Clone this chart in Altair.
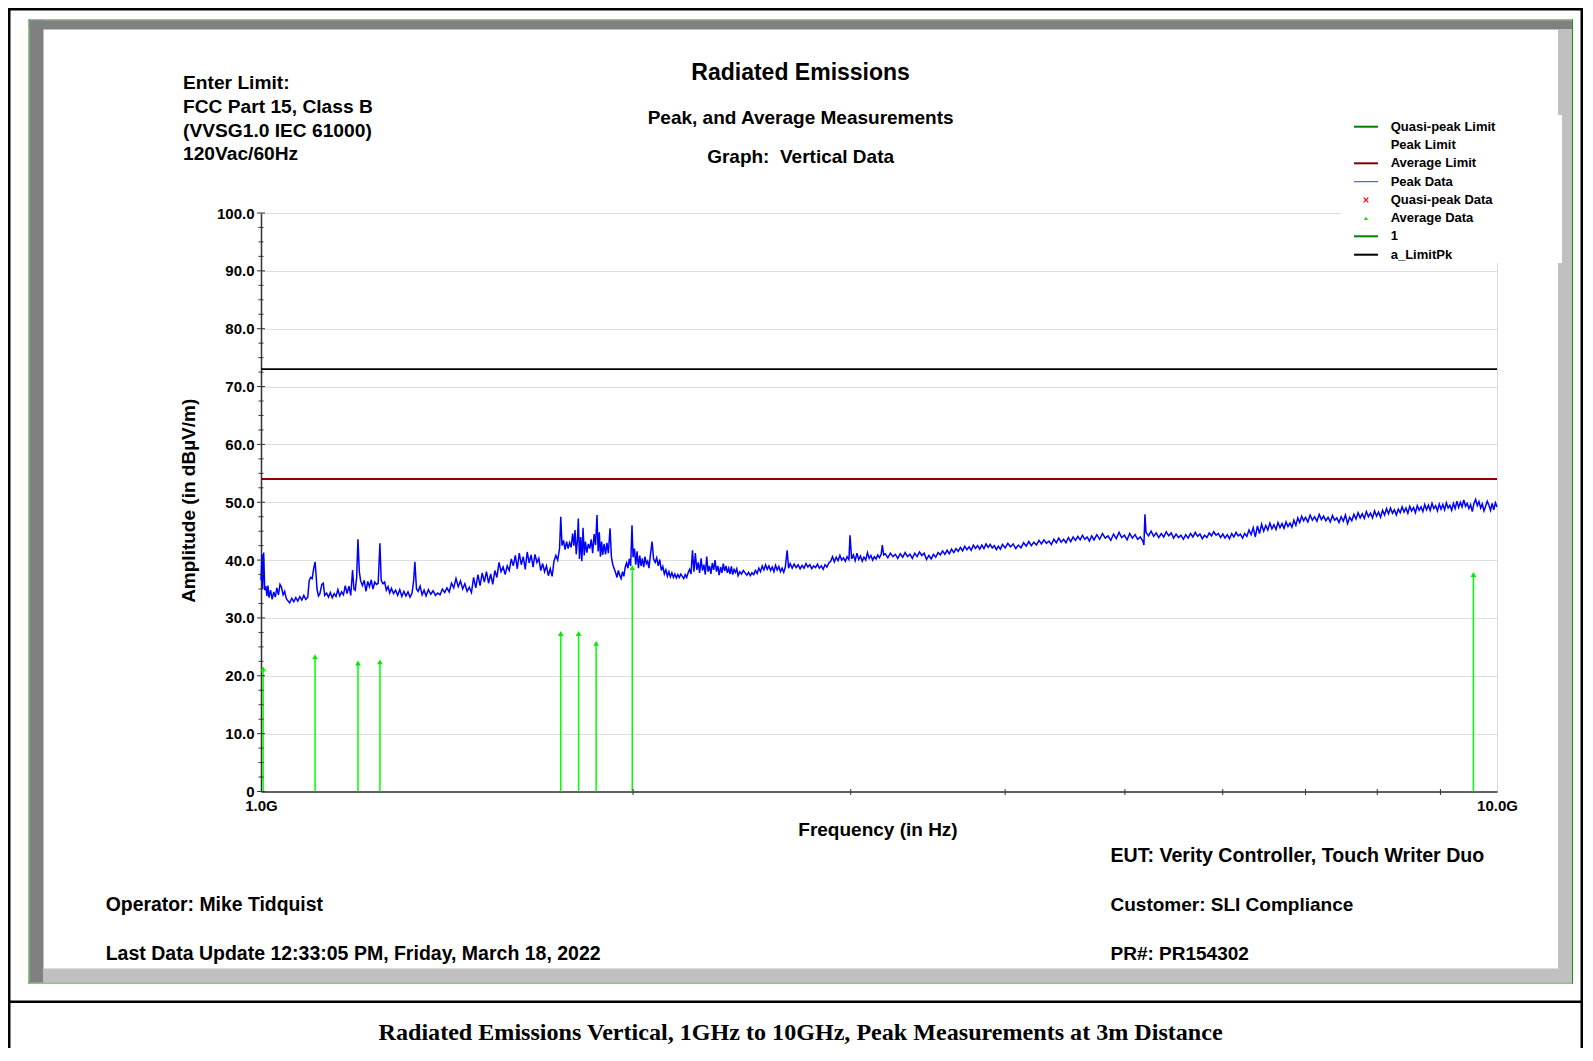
import altair as alt
import pandas as pd

# ---------------- data ----------------
PEAK_FREQ_GHZ = [
    1.000, 1.002, 1.003, 1.005, 1.007, 1.009, 1.011, 1.013, 1.015, 1.018,
    1.021, 1.024, 1.027, 1.030, 1.033, 1.036, 1.039, 1.042, 1.045, 1.048,
    1.051, 1.055, 1.059, 1.063, 1.067, 1.071, 1.075, 1.079, 1.083, 1.087,
    1.091, 1.094, 1.097, 1.100, 1.103, 1.106, 1.108, 1.110, 1.113, 1.116,
    1.120, 1.123, 1.126, 1.130, 1.134, 1.138, 1.142, 1.146, 1.150, 1.154,
    1.158, 1.162, 1.166, 1.170, 1.174, 1.178, 1.182, 1.186, 1.189, 1.192,
    1.195, 1.198, 1.201, 1.204, 1.208, 1.212, 1.216, 1.220, 1.224, 1.228,
    1.232, 1.236, 1.240, 1.244, 1.248, 1.251, 1.255, 1.259, 1.263, 1.267,
    1.271, 1.275, 1.280, 1.285, 1.290, 1.295, 1.300, 1.305, 1.310, 1.315,
    1.320, 1.325, 1.329, 1.332, 1.336, 1.340, 1.345, 1.350, 1.355, 1.360,
    1.366, 1.372, 1.378, 1.384, 1.390, 1.396, 1.402, 1.408, 1.414, 1.420,
    1.426, 1.432, 1.438, 1.444, 1.450, 1.456, 1.462, 1.468, 1.474, 1.480,
    1.486, 1.492, 1.498, 1.504, 1.510, 1.516, 1.522, 1.528, 1.534, 1.540,
    1.546, 1.552, 1.558, 1.564, 1.570, 1.576, 1.582, 1.588, 1.594, 1.600,
    1.606, 1.612, 1.618, 1.624, 1.630, 1.636, 1.642, 1.648, 1.654, 1.660,
    1.666, 1.672, 1.678, 1.684, 1.690, 1.696, 1.702, 1.708, 1.714, 1.720,
    1.726, 1.732, 1.738, 1.744, 1.748, 1.752, 1.757, 1.762, 1.767, 1.772,
    1.777, 1.782, 1.787, 1.791, 1.795, 1.799, 1.803, 1.806, 1.810, 1.814,
    1.818, 1.822, 1.826, 1.830, 1.835, 1.840, 1.845, 1.850, 1.855, 1.860,
    1.865, 1.870, 1.874, 1.878, 1.882, 1.886, 1.890, 1.895, 1.900, 1.905,
    1.910, 1.916, 1.921, 1.926, 1.931, 1.936, 1.941, 1.946, 1.951, 1.956,
    1.961, 1.966, 1.971, 1.976, 1.981, 1.986, 1.991, 1.996, 2.000, 2.005,
    2.010, 2.015, 2.020, 2.025, 2.030, 2.035, 2.040, 2.045, 2.050, 2.055,
    2.060, 2.066, 2.072, 2.078, 2.084, 2.090, 2.096, 2.102, 2.108, 2.114,
    2.120, 2.126, 2.132, 2.138, 2.144, 2.150, 2.156, 2.162, 2.168, 2.174,
    2.180, 2.186, 2.192, 2.198, 2.204, 2.210, 2.216, 2.222, 2.228, 2.234,
    2.240, 2.246, 2.252, 2.258, 2.264, 2.270, 2.276, 2.282, 2.288, 2.294,
    2.300, 2.306, 2.312, 2.318, 2.324, 2.330, 2.336, 2.342, 2.348, 2.354,
    2.360, 2.366, 2.372, 2.378, 2.384, 2.390, 2.396, 2.402, 2.408, 2.414,
    2.420, 2.426, 2.432, 2.440, 2.448, 2.456, 2.464, 2.472, 2.480, 2.488,
    2.496, 2.504, 2.512, 2.520, 2.528, 2.536, 2.544, 2.552, 2.560, 2.568,
    2.576, 2.584, 2.592, 2.600, 2.608, 2.616, 2.624, 2.632, 2.640, 2.648,
    2.656, 2.665, 2.672, 2.680, 2.690, 2.700, 2.710, 2.720, 2.730, 2.740,
    2.750, 2.760, 2.770, 2.780, 2.790, 2.800, 2.810, 2.820, 2.830, 2.840,
    2.850, 2.860, 2.870, 2.880, 2.890, 2.900, 2.910, 2.920, 2.930, 2.940,
    2.950, 2.960, 2.970, 2.980, 2.990, 2.996, 3.005, 3.015, 3.025, 3.035,
    3.045, 3.055, 3.065, 3.075, 3.085, 3.095, 3.105, 3.115, 3.125, 3.135,
    3.145, 3.155, 3.165, 3.175, 3.182, 3.190, 3.200, 3.215, 3.230, 3.245,
    3.260, 3.275, 3.290, 3.305, 3.320, 3.335, 3.350, 3.365, 3.380, 3.395,
    3.410, 3.425, 3.440, 3.455, 3.470, 3.485, 3.500, 3.515, 3.530, 3.545,
    3.560, 3.575, 3.590, 3.605, 3.620, 3.635, 3.650, 3.665, 3.680, 3.695,
    3.710, 3.725, 3.740, 3.755, 3.770, 3.785, 3.800, 3.815, 3.830, 3.845,
    3.860, 3.875, 3.890, 3.905, 3.920, 3.935, 3.950, 3.965, 3.980, 4.000,
    4.020, 4.040, 4.060, 4.080, 4.100, 4.120, 4.140, 4.160, 4.180, 4.200,
    4.220, 4.240, 4.260, 4.280, 4.300, 4.320, 4.340, 4.360, 4.380, 4.400,
    4.420, 4.440, 4.460, 4.480, 4.500, 4.520, 4.540, 4.560, 4.580, 4.600,
    4.620, 4.640, 4.660, 4.680, 4.700, 4.720, 4.745, 4.770, 4.795, 4.820,
    4.845, 4.870, 4.895, 4.920, 4.945, 4.970, 4.995, 5.020, 5.045, 5.070,
    5.095, 5.120, 5.145, 5.170, 5.180, 5.190, 5.200, 5.225, 5.250, 5.275,
    5.300, 5.325, 5.350, 5.375, 5.400, 5.425, 5.450, 5.475, 5.500, 5.525,
    5.550, 5.575, 5.600, 5.625, 5.650, 5.675, 5.700, 5.725, 5.750, 5.775,
    5.800, 5.825, 5.850, 5.875, 5.900, 5.925, 5.950, 5.975, 6.000, 6.025,
    6.050, 6.075, 6.100, 6.125, 6.150, 6.175, 6.200, 6.225, 6.250, 6.275,
    6.300, 6.325, 6.350, 6.375, 6.400, 6.425, 6.450, 6.475, 6.500, 6.525,
    6.550, 6.575, 6.600, 6.625, 6.650, 6.675, 6.700, 6.725, 6.750, 6.775,
    6.800, 6.825, 6.850, 6.875, 6.900, 6.925, 6.950, 6.975, 7.000, 7.030,
    7.060, 7.090, 7.120, 7.150, 7.180, 7.210, 7.240, 7.270, 7.300, 7.330,
    7.360, 7.390, 7.420, 7.450, 7.480, 7.510, 7.540, 7.570, 7.600, 7.630,
    7.660, 7.690, 7.720, 7.750, 7.780, 7.810, 7.840, 7.870, 7.900, 7.930,
    7.960, 7.990, 8.020, 8.050, 8.080, 8.110, 8.140, 8.170, 8.200, 8.230,
    8.260, 8.290, 8.320, 8.350, 8.380, 8.410, 8.440, 8.470, 8.500, 8.530,
    8.560, 8.590, 8.620, 8.650, 8.680, 8.710, 8.740, 8.770, 8.800, 8.830,
    8.860, 8.890, 8.920, 8.950, 8.980, 9.010, 9.040, 9.070, 9.100, 9.130,
    9.160, 9.190, 9.220, 9.250, 9.280, 9.310, 9.340, 9.370, 9.400, 9.430,
    9.460, 9.490, 9.520, 9.550, 9.580, 9.610, 9.640, 9.670, 9.700, 9.730,
    9.760, 9.790, 9.820, 9.850, 9.880, 9.910, 9.940, 9.970, 10.000,
]
PEAK_DBUV = [
    36.5, 41.0, 35.0, 41.3, 34.8, 35.5, 33.8, 35.6, 33.5, 34.8,
    33.2, 34.5, 33.6, 35.2, 34.0, 35.8, 35.3, 34.0, 34.6, 33.4,
    33.0, 32.6, 33.4, 32.8, 33.5, 32.9, 33.7, 33.1, 33.9, 33.2,
    33.6, 36.5, 37.0, 36.8, 38.5, 39.7, 37.5, 35.0, 33.8, 34.2,
    35.8, 36.0, 33.9, 34.3, 33.6, 34.4, 33.5, 34.2, 33.7, 34.9,
    33.8, 34.5, 34.0, 35.6, 34.2, 35.5, 33.9, 38.3, 35.0, 34.8,
    37.0, 43.6, 38.0, 36.4, 35.6, 36.5, 34.6, 36.3, 35.4, 36.6,
    35.0, 36.2, 35.8, 36.0, 42.9, 36.5, 35.9, 36.2, 34.8, 35.4,
    34.3, 35.1, 34.2, 34.8, 33.9, 34.9, 33.7, 34.6, 33.8, 34.5,
    33.6, 34.3, 36.5, 39.7, 35.0, 34.6, 35.5, 34.0, 34.8, 33.8,
    34.9, 34.1, 34.7, 33.9, 34.3, 34.0, 35.0, 34.4, 35.2, 34.5,
    36.0, 35.2, 36.8, 35.4, 36.4, 35.0, 35.9, 34.6, 35.3, 34.4,
    37.0, 35.2, 37.5, 35.6, 37.8, 36.2, 38.0, 36.0, 37.6, 35.8,
    38.2, 37.0, 39.6, 38.0, 38.8, 37.5, 39.0, 38.2, 40.2, 39.0,
    40.8, 38.5, 41.2, 39.2, 40.6, 38.4, 41.4, 39.5, 40.9, 38.8,
    41.0, 39.6, 40.3, 38.2, 39.4, 38.0, 39.0, 37.3, 38.5, 37.2,
    39.8, 40.8, 40.0, 42.0, 47.5, 42.5, 43.4, 41.8, 43.2, 42.0,
    43.0, 42.2, 44.6, 42.5, 45.2, 41.0, 43.5, 47.2, 40.2, 44.0,
    39.8, 45.6, 40.8, 43.2, 41.3, 42.8, 42.0, 43.6, 41.2, 44.5,
    42.6, 47.8, 41.5, 44.8, 40.6, 43.2, 40.9, 42.8, 41.0, 43.0,
    41.2, 45.5, 40.5, 39.2, 38.5, 37.8, 37.0, 38.2, 37.4, 36.8,
    38.0, 37.2, 38.8, 39.5, 38.6, 40.2, 39.0, 46.0, 40.5, 42.0,
    39.2, 41.5, 38.6, 40.8, 39.0, 40.3, 38.8, 40.6, 39.4, 39.8,
    38.6, 41.0, 43.2, 40.2, 39.6, 40.4, 39.0, 40.1, 38.2, 38.9,
    37.6, 38.3, 37.2, 38.0, 37.1, 37.8, 37.0, 37.6, 36.9, 37.5,
    37.0, 37.6, 37.2, 36.8, 37.5, 37.0, 37.8, 38.4, 37.6, 41.7,
    38.0, 41.2, 38.3, 39.6, 37.8, 40.3, 38.2, 39.2, 37.5, 40.6,
    38.0, 39.0, 37.6, 39.5, 38.3, 40.0, 38.0, 39.0, 37.4, 38.8,
    37.8, 39.4, 38.1, 39.0, 37.8, 38.6, 37.6, 38.9, 37.5, 38.4,
    37.9, 38.5, 37.3, 38.0, 37.6, 38.2, 37.8, 37.4, 37.9, 37.3,
    37.8, 37.5, 38.2, 37.7, 38.6, 38.0, 39.0, 38.3, 39.2, 38.4,
    39.0, 38.2, 38.8, 38.0, 39.1, 38.3, 38.9, 38.0, 38.6, 37.9,
    38.8, 41.7, 38.6, 39.4, 38.6, 39.3, 38.7, 39.2, 38.5, 39.1,
    38.6, 39.4, 38.8, 39.2, 38.5, 39.0, 38.7, 39.3, 38.6, 39.0,
    38.4, 39.2, 38.8, 39.5, 39.8, 40.6, 39.7, 40.5, 39.9, 40.8,
    40.0, 40.4, 39.8, 40.6, 40.1, 44.3, 40.2, 40.9, 39.9, 41.2,
    40.1, 40.7, 39.8, 40.5, 40.0, 41.3, 40.3, 40.8, 40.0, 40.6,
    40.2, 40.9, 40.4, 41.0, 42.6, 40.9, 41.1, 40.4, 41.2, 40.6,
    41.0, 40.3, 41.1, 40.5, 41.3, 40.6, 41.0, 40.3, 41.2, 40.6,
    41.4, 40.8, 41.2, 40.1, 40.8, 40.2, 41.0, 40.5, 41.3, 40.9,
    41.6, 41.0, 41.7, 41.1, 41.9, 41.3, 42.0, 41.5, 42.2, 41.6,
    42.4, 41.8, 42.3, 41.7, 42.6, 42.0, 42.5, 41.9, 42.6, 42.0,
    42.8, 42.2, 42.7, 42.1, 42.5, 41.8, 42.4, 41.9, 42.7, 42.1,
    42.9, 42.3, 42.8, 42.0, 42.6, 42.1, 43.0, 42.4, 43.2, 42.5,
    43.1, 42.6, 43.4, 42.8, 43.5, 42.9, 43.3, 42.7, 43.6, 43.0,
    43.8, 43.1, 43.6, 43.0, 43.9, 43.2, 44.0, 43.4, 44.1, 43.5,
    44.3, 43.6, 44.0, 43.3, 44.2, 43.5, 44.4, 43.6, 44.6, 43.8,
    44.2, 43.4, 44.5, 43.7, 44.8, 43.9, 44.3, 43.5, 44.6, 43.8,
    44.4, 43.6, 44.0, 43.3, 42.6, 47.9, 44.8, 44.2, 45.0, 44.1,
    44.7, 43.9, 44.6, 44.0, 44.9, 44.2, 44.7, 43.8, 44.5, 43.9,
    44.3, 43.6, 44.4, 43.8, 44.6, 44.0, 44.8, 44.1, 44.5, 43.7,
    44.3, 43.9, 44.7, 44.2, 44.9, 44.3, 44.6, 43.9, 44.5, 43.8,
    44.4, 43.7, 44.6, 44.0, 44.8, 44.2, 44.5, 43.8, 44.6, 44.1,
    45.2, 44.4, 45.6, 44.0, 45.9, 44.6, 46.2, 45.0, 46.0, 45.2,
    46.4, 45.4, 46.1, 45.3, 46.5, 45.6, 46.3, 45.5, 46.6, 45.8,
    46.4, 45.7, 46.9, 46.0, 47.3, 46.5, 47.6, 46.8, 47.4, 46.6,
    47.8, 46.9, 47.5, 46.7, 47.9, 47.0, 47.6, 46.8, 47.4, 46.6,
    47.7, 46.9, 47.3, 46.5, 47.5, 46.7, 47.8, 46.3, 47.4, 46.8,
    47.9, 47.1, 48.2, 47.3, 48.0, 47.2, 48.4, 47.5, 48.1, 47.3,
    48.5, 47.6, 48.3, 47.4, 48.6, 47.8, 48.9, 48.0, 49.0, 48.1,
    48.7, 47.8, 48.8, 48.2, 49.2, 48.3, 49.0, 48.1, 49.3, 48.5,
    49.1, 48.2, 49.4, 48.6, 49.2, 48.4, 49.6, 48.7, 49.5, 48.6,
    49.8, 48.9, 49.4, 48.5, 49.7, 48.8, 49.6, 48.7, 49.9, 49.0,
    49.5, 48.6, 49.8, 48.9, 50.2, 49.1, 50.0, 49.2, 50.4, 49.3,
    49.8, 48.9, 49.6, 48.4, 49.8, 50.5, 49.4, 50.1, 49.0, 49.7,
    48.5, 49.3, 50.2, 49.5, 48.6, 49.8, 48.7, 49.9, 49.2,
]
assert len(PEAK_FREQ_GHZ) == len(PEAK_DBUV)

AVG_FREQ_GHZ = [1.004, 1.106, 1.198, 1.248, 1.748, 1.807, 1.867, 1.997, 9.57]
AVG_DBUV = [21.2, 23.3, 22.2, 22.4, 27.3, 27.3, 25.6, 38.7, 37.5]

AVERAGE_LIMIT_DBUV = [54.0]
LIMIT_PK_DBUV = [73.0]

Y_MAJOR_TICKS = [0, 10, 20, 30, 40, 50, 60, 70, 80, 90, 100]
Y_MINOR_TICKS = [v * 2.5 for v in range(41) if v % 4]
X_TICK_GHZ = [2, 3, 4, 5, 6, 7, 8, 9]
X_LABEL_GHZ = [1, 10]

LEGEND_LABELS = ["Quasi-peak Limit", "Peak Limit", "Average Limit", "Peak Data",
                 "Quasi-peak Data", "Average Data", "1", "a_LimitPk"]

HEADER_LINES = ["Enter Limit:", "FCC Part 15, Class B", "(VVSG1.0 IEC 61000)", "120Vac/60Hz"]

# ---------------- layout ----------------
SANS = "Liberation Sans"
SERIF = "Liberation Serif"
W, H = 1236, 578.5
OX, OY = 261, 213          # page position of plot origin
PAD_L, PAD_T = OX - 8, OY - 8
TOTAL_W, TOTAL_H = 1575, 1040

ONE = pd.DataFrame({"k": [0]})

XS = alt.Scale(type="log", domain=[1, 10])
YS = alt.Scale(domain=[0, 100], nice=False, zero=False)
X_AXIS = alt.Axis(title=None, values=X_LABEL_GHZ,
                  labelExpr="datum.value == 1 ? '1.0G' : '10.0G'",
                  ticks=False, grid=False, domainColor="#333333", domainWidth=1.5,
                  labelFont=SANS, labelFontSize=15, labelFontWeight="bold",
                  labelColor="#000000", labelPadding=7, labelFlush=False,
                  labelOverlap=False)
Y_AXIS = alt.Axis(title=None, values=Y_MAJOR_TICKS,
                  labelExpr="datum.value == 0 ? '0' : format(datum.value, '.1f')",
                  ticks=False, grid=True, gridColor="#dedede", gridWidth=1.2,
                  domainColor="#333333", domainWidth=1.5,
                  labelFont=SANS, labelFontSize=15, labelFontWeight="bold",
                  labelColor="#000000", labelPadding=7, labelFlush=False,
                  labelOverlap=False)


def xenc():
    return alt.X("f:Q", scale=XS, axis=X_AXIS)


def yenc():
    return alt.Y("a:Q", scale=YS, axis=Y_AXIS)


def rect(x1, y1, x2, y2, color):
    return alt.Chart(ONE).mark_rect(color=color).encode(
        x=alt.value(x1 - OX), x2=alt.value(x2 - OX),
        y=alt.value(y1 - OY), y2=alt.value(y2 - OY))


def text(s, x, y, size, align="left", font=SANS, angle=0):
    return alt.Chart(ONE).mark_text(
        align=align, baseline="middle", font=font, fontSize=size,
        fontWeight="bold", color="#000000", angle=angle).encode(
        x=alt.value(x - OX), y=alt.value(y - OY), text=alt.value(s))


def hline(x1, x2, y, color, width):
    return alt.Chart(ONE).mark_rule(color=color, strokeWidth=width).encode(
        x=alt.value(x1 - OX), x2=alt.value(x2 - OX), y=alt.value(y - OY))


layers = []

# ---- frame decoration ----
GREEN = "#1f8c1f"
layers += [
    rect(8, 8, 10.5, 8 + TOTAL_H, "#000000"),
    rect(8, 8, 8 + TOTAL_W, 10.5, "#000000"),
    rect(8 + TOTAL_W - 2.5, 8, 8 + TOTAL_W, 8 + TOTAL_H, "#000000"),
    rect(8, 1000.5, 8 + TOTAL_W, 1003, "#000000"),
    rect(28.5, 19.5, 1573, 20.5, GREEN),
    rect(28.5, 982.5, 1573, 983.5, GREEN),
    rect(28.5, 19.5, 29.5, 983.5, GREEN),
    rect(1572, 19.5, 1573, 983.5, GREEN),
    rect(29.5, 20.5, 1572, 29.5, "#808080"),
    rect(29.5, 20.5, 43.5, 982.5, "#808080"),
    rect(1558, 29.5, 1572, 982.5, "#c0c0c0"),
    rect(43.5, 968.5, 1558, 982.5, "#c0c0c0"),
]

# ---- data layers ----
peak_df = pd.DataFrame({"f": PEAK_FREQ_GHZ, "a": PEAK_DBUV})
avg_df = pd.DataFrame({"f": AVG_FREQ_GHZ, "a": AVG_DBUV, "base": [0.0] * len(AVG_DBUV)})

layers.append(alt.Chart(peak_df).mark_line(color="#0000ff", strokeWidth=1.5).encode(
    x=xenc(), y=yenc()))
layers.append(alt.Chart(pd.DataFrame({"a": AVERAGE_LIMIT_DBUV})).mark_rule(
    color="#8b0000", strokeWidth=2).encode(y=yenc()))
layers.append(alt.Chart(pd.DataFrame({"a": LIMIT_PK_DBUV})).mark_rule(
    color="#000000", strokeWidth=1.8).encode(y=yenc()))
layers.append(alt.Chart(avg_df).mark_rule(color="#00ff00", strokeWidth=1.5).encode(
    x=xenc(), y=yenc(), y2=alt.Y2("base:Q")))
layers.append(alt.Chart(avg_df).mark_point(shape="triangle-up", filled=True, size=32,
                                           color="#00ee00", opacity=1).encode(
    x=xenc(), y=yenc()))

# ---- manual ticks ----
layers.append(alt.Chart(pd.DataFrame({"a": Y_MAJOR_TICKS})).mark_rule(
    color="#333333", strokeWidth=1).encode(y=yenc(), x=alt.value(-4), x2=alt.value(4)))
layers.append(alt.Chart(pd.DataFrame({"a": Y_MINOR_TICKS})).mark_rule(
    color="#333333", strokeWidth=1).encode(y=yenc(), x=alt.value(-2.5), x2=alt.value(2.5)))
layers.append(alt.Chart(pd.DataFrame({"f": X_TICK_GHZ})).mark_rule(
    color="#333333", strokeWidth=1).encode(x=xenc(), y=alt.value(H - 2.5), y2=alt.value(H + 3.5)))

# ---- legend ----
layers.append(rect(1340.7, 115, 1562, 263, "#ffffff"))
LEG_Y = [126.7, 145.0, 163.3, 181.7, 200.0, 218.3, 236.3, 254.7]
LEG_LINES = {0: ("#008000", 2), 2: ("#800000", 2), 3: ("#3333ff", 1),
             6: ("#008000", 2), 7: ("#000000", 2)}
for i, lab in enumerate(LEGEND_LABELS):
    if i in LEG_LINES:
        c, w = LEG_LINES[i]
        layers.append(hline(1354, 1378, LEG_Y[i], c, w))
    layers.append(text(lab, 1390.7, LEG_Y[i], 13))
layers.append(alt.Chart(ONE).mark_point(
    shape="M-1,-1L1,1M-1,1L1,-1", size=22, filled=False, color="#ff0000",
    strokeWidth=1.2, opacity=1).encode(x=alt.value(1366 - OX), y=alt.value(LEG_Y[4] - OY)))
layers.append(alt.Chart(ONE).mark_point(
    shape="triangle-up", size=16, filled=True, color="#00ee00", opacity=1).encode(
    x=alt.value(1366 - OX), y=alt.value(LEG_Y[5] - OY)))

# ---- texts ----
layers += [
    text("Radiated Emissions", 800.6, 73, 23, align="center"),
    text("Peak, and Average Measurements", 800.6, 118, 19, align="center"),
    text("Graph:\u00a0 Vertical Data", 800.6, 156.5, 19, align="center"),
]
for i, line in enumerate(HEADER_LINES):
    layers.append(text(line, 183, [83.3, 106.7, 131.0, 154.4][i], 19.2))
layers += [
    text("Amplitude (in dB\u00b5V/m)", 189, 500.8, 19, align="center", angle=270),
    text("Frequency (in Hz)", 878, 830, 19, align="center"),
    text("EUT: Verity Controller, Touch Writer Duo", 1110.5, 855.5, 19.6),
    text("Operator: Mike Tidquist", 105.7, 904.5, 19.4),
    text("Customer: SLI Compliance", 1110.5, 904.5, 19),
    text("Last Data Update 12:33:05 PM, Friday, March 18, 2022", 105.7, 953.5, 19.5),
    text("PR#: PR154302", 1110.5, 953.5, 19),
    text("Radiated Emissions Vertical, 1GHz to 10GHz, Peak Measurements at 3m Distance",
         800.6, 1032.5, 24.1, align="center", font=SERIF),
]

chart = alt.layer(*layers).properties(
    width=W, height=H,
    padding={"left": PAD_L, "top": PAD_T,
             "right": TOTAL_W - PAD_L - W, "bottom": TOTAL_H - PAD_T - H},
    autosize=alt.AutoSizeParams(type="none"),
    background="#ffffff",
).configure_view(stroke="#d9d9d9", strokeWidth=1)

chart.save("out.html", embed_options={"renderer": "svg", "actions": False})
